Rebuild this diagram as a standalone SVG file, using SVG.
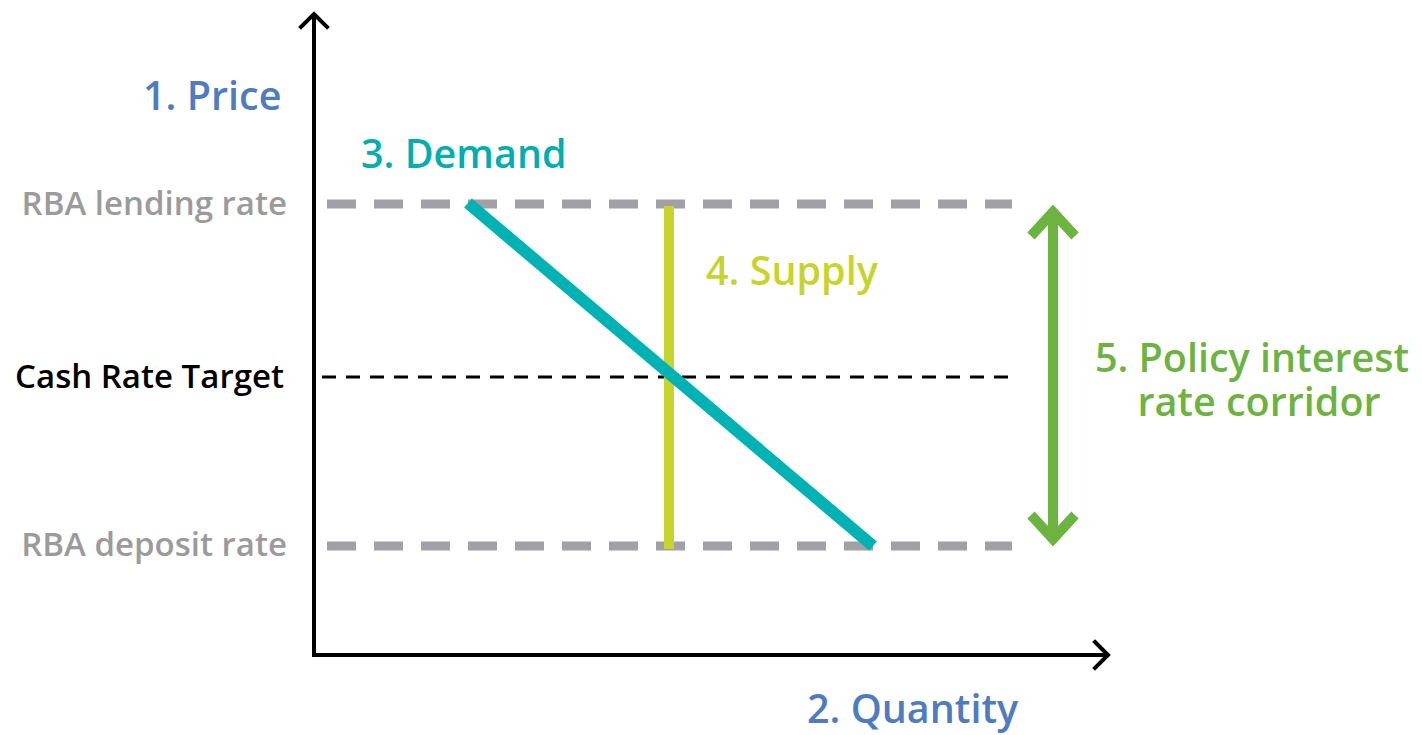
<svg xmlns="http://www.w3.org/2000/svg" width="1422" height="735" viewBox="0 0 1422 735">
<style>
text{font-family:"Open Sans","Noto Sans","Liberation Sans",sans-serif;font-weight:600}
.big{font-size:39.5px}
.lab{font-size:33px}
.axis{stroke:#000;stroke-width:4;fill:none}
.head{stroke:#000;stroke-width:4;fill:none;stroke-linecap:square}
</style>
<rect width="1422" height="735" fill="#fff"/>
<g id="connectors">
<line x1="327" y1="204" x2="1012" y2="204" stroke="#A0A0A6" stroke-width="9" stroke-dasharray="29 18"/>
<line x1="327" y1="546" x2="1012" y2="546" stroke="#A0A0A6" stroke-width="9" stroke-dasharray="29 18"/>
<line x1="322" y1="377" x2="1012" y2="377" stroke="#000" stroke-width="3" stroke-dasharray="14 10"/>
<line x1="669" y1="206" x2="669" y2="549" stroke="#C8D42E" stroke-width="10"/>
<line x1="468" y1="203" x2="873" y2="546" stroke="#00B2B4" stroke-width="12"/>
<line x1="1053" y1="212" x2="1053" y2="540" stroke="#6DB33F" stroke-width="10"/>
<polyline points="1031,236 1053,212 1075,236" fill="none" stroke="#6DB33F" stroke-width="10"/>
<polyline points="1031,515 1053,539 1075,515" fill="none" stroke="#6DB33F" stroke-width="10"/>
<line class="axis" x1="314" y1="14" x2="314" y2="657"/>
<line class="axis" x1="312" y1="655" x2="1108" y2="655"/>
<polyline class="head" points="301,27 314,14 327,27"/>
<polyline class="head" points="1095,642 1108,655 1095,668"/>
</g>
<g id="price"><text class="big" x="143" y="110" fill="#4F7CC0">1. Price</text></g>
<g id="quantity"><text class="big" x="807" y="723" fill="#4F7CC0">2. Quantity</text></g>
<g id="demand"><text class="big" x="361" y="168" fill="#00AEB0">3. Demand</text></g>
<g id="supply"><text class="big" x="706" y="285" fill="#C8D42E">4. Supply</text></g>
<g id="corridor">
<text class="big" x="1252" y="372" text-anchor="middle" fill="#6DB33F">5. Policy interest</text>
<text class="big" x="1259" y="416" text-anchor="middle" fill="#6DB33F">rate corridor</text>
</g>
<g id="lending"><text class="lab" x="287" y="215" text-anchor="end" fill="#9B9B9B">RBA lending rate</text></g>
<g id="cash"><text class="lab" x="284" y="388" text-anchor="end" fill="#000">Cash Rate Target</text></g>
<g id="deposit"><text class="lab" x="287" y="556" text-anchor="end" fill="#9B9B9B">RBA deposit rate</text></g>
</svg>
